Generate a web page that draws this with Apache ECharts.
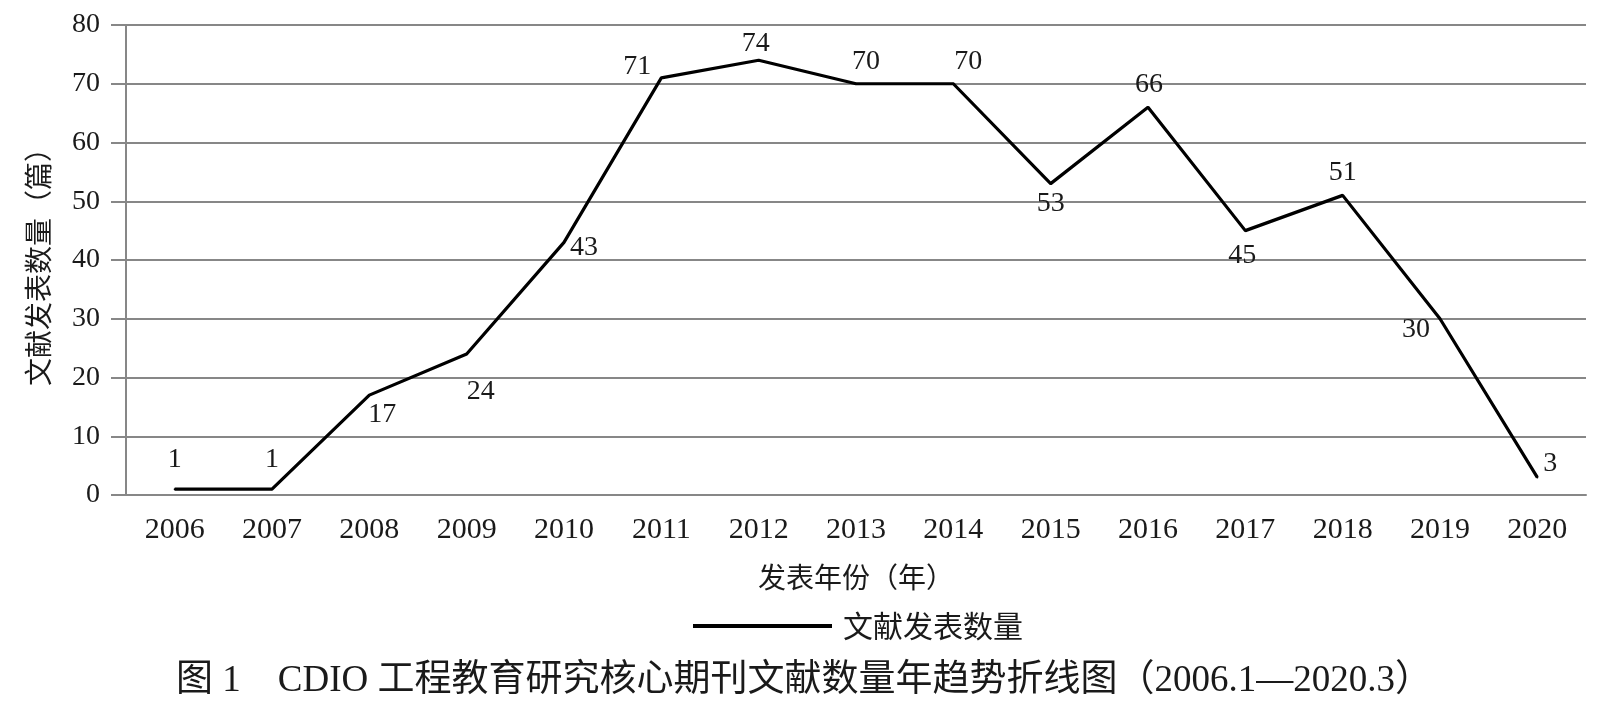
<!DOCTYPE html>
<html>
<head>
<meta charset="utf-8">
<script src="https://cdn.jsdelivr.net/npm/echarts@6/dist/echarts.min.js"></script>
<style>
  html, body { margin: 0; padding: 0; background: #fff; }
  #chart { width: 1608px; height: 702px; }
</style>
</head>
<body>
<div id="chart"></div>
<script>
// publication years and article counts
const years = ['2006', '2007', '2008', '2009', '2010', '2011', '2012', '2013', '2014', '2015', '2016', '2017', '2018', '2019', '2020'];
const counts = [1, 1, 17, 24, 43, 71, 74, 70, 70, 53, 66, 45, 51, 30, 3];
const yTicks = [0, 10, 20, 30, 40, 50, 60, 70, 80];

// where each value label sits relative to its point
const labelPlace = [
    ['top', [0, -9]], ['top', [0, -9]], ['bottom', [13, 0]], ['bottom', [14, 18]],
    ['right', [0, 5]], ['left', [-4, -11]], ['top', [-3, 3]], ['top', [10, -2]],
    ['top', [15, -2]], ['bottom', [0, 0]], ['top', [1, -3]], ['bottom', [-3, 5]],
    ['top', [0, -3]], ['left', [-4, 11]], ['right', [0, -14]]
];

const serif = '"Liberation Serif", "Noto Sans CJK SC", serif';
const cjk = '"Noto Sans CJK SC", sans-serif';
const gray = '#878787';
const ink = '#1a1a1a';

let myChart = echarts.init(document.getElementById('chart'));

let option = {
    backgroundColor: '#fff',
    animation: false,
    title: {
        text: '图 1　CDIO 工程教育研究核心期刊文献数量年趋势折线图（2006.1—2020.3）',
        left: 'center',
        top: 663,
        padding: 0,
        textStyle: { fontFamily: serif, fontSize: 37, fontWeight: 'normal', color: ink }
    },
    legend: {
        data: ['文献发表数量'],
        left: 688,
        top: 606,
        icon: 'rect',
        itemWidth: 139,
        itemHeight: 4,
        textStyle: { fontFamily: cjk, fontSize: 30, color: ink, padding: [0, 0, 0, 6] }
    },
    grid: { left: 126, right: 22, top: 25, bottom: 207 },
    xAxis: {
        type: 'category',
        data: years,
        boundaryGap: true,
        axisLine: { lineStyle: { color: gray, width: 2 } },
        axisTick: { length: 14, lineStyle: { color: gray, width: 2 } },
        axisLabel: { fontFamily: serif, fontSize: 30, color: ink, margin: 20 },
        name: '发表年份（年）',
        nameLocation: 'middle',
        nameGap: 68,
        nameTextStyle: { fontFamily: cjk, fontSize: 28, color: ink }
    },
    yAxis: {
        type: 'value',
        min: yTicks[0],
        max: yTicks[yTicks.length - 1],
        interval: yTicks[1] - yTicks[0],
        axisLine: { show: true, lineStyle: { color: gray, width: 2 } },
        axisTick: { show: true, length: 15, lineStyle: { color: gray, width: 2 } },
        splitLine: { lineStyle: { color: gray, width: 2 } },
        axisLabel: { fontFamily: serif, fontSize: 28, color: ink, margin: 26 },
        name: '文献发表数量（篇）',
        nameLocation: 'middle',
        nameRotate: 90,
        nameGap: 74,
        nameTextStyle: { fontFamily: cjk, fontSize: 28, color: ink }
    },
    series: [
        {
            name: '文献发表数量',
            type: 'line',
            color: '#000',
            symbol: 'circle',
            symbolSize: 2,
            itemStyle: { color: '#000' },
            lineStyle: { color: '#000', width: 3.2 },
            data: counts.map((v, i) => ({
                value: v,
                label: { position: labelPlace[i][0], offset: labelPlace[i][1] }
            })),
            label: {
                show: true,
                fontFamily: serif,
                fontSize: 28,
                color: ink,
                distance: 5
            }
        }
    ]
};

myChart.setOption(option);
</script>
</body>
</html>
